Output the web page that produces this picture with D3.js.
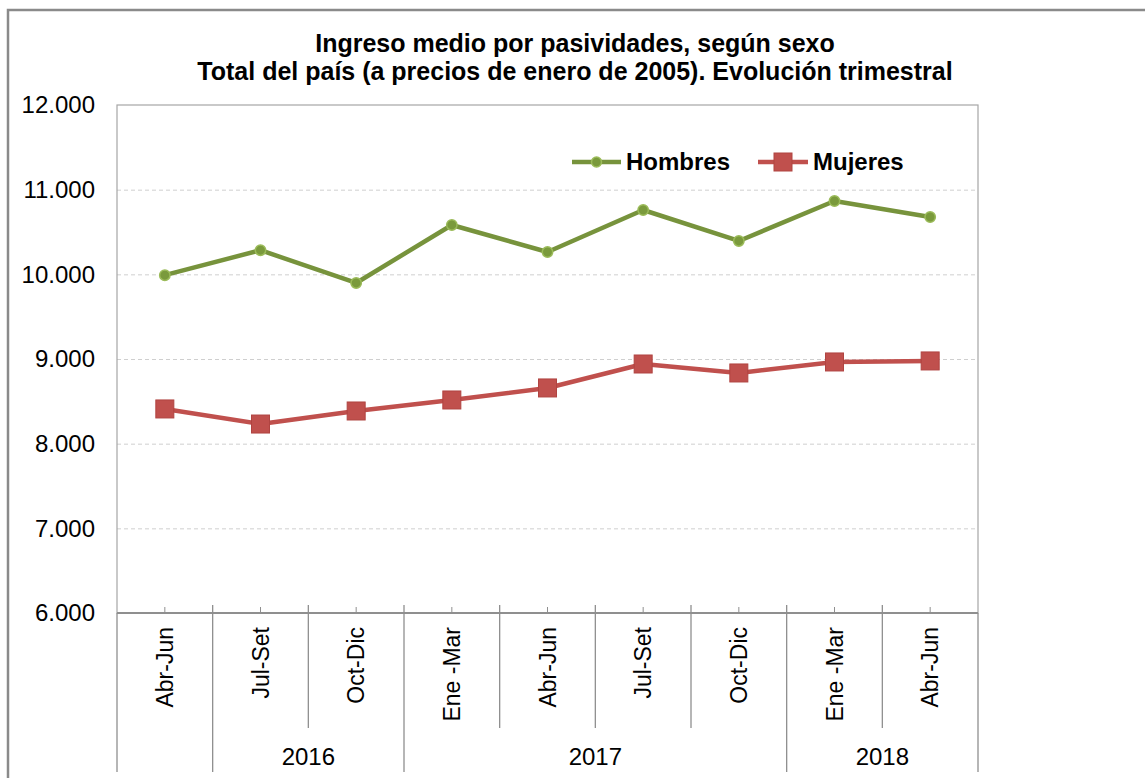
<!DOCTYPE html>
<html>
<head>
<meta charset="utf-8">
<script src="https://cdn.jsdelivr.net/npm/d3@7"></script>
<style>
  body { margin: 0; background: #fff; }
  text { font-family: Arial, "Liberation Sans", sans-serif; }
</style>
</head>
<body>
<div class="chart"></div>
<script>
// data
const quarters = ['Abr-Jun', 'Jul-Set', 'Oct-Dic', 'Ene -Mar', 'Abr-Jun', 'Jul-Set', 'Oct-Dic', 'Ene -Mar', 'Abr-Jun']
const years = [
  {label: '', start: 0, end: 1},
  {label: '2016', start: 1, end: 3},
  {label: '2017', start: 3, end: 7},
  {label: '2018', start: 7, end: 9}
]
const hombres = [9990, 10285, 9898, 10583, 10264, 10760, 10394, 10866, 10677]
const mujeres = [8410, 8232, 8386, 8516, 8658, 8941, 8835, 8965, 8977]
const yTicks = [6000, 7000, 8000, 9000, 10000, 11000, 12000]
const titleLines = ['Ingreso medio por pasividades, según sexo', 'Total del país (a precios de enero de 2005). Evolución trimestral']

const W = 1145, H = 778
const margin = ({top: 105, right: 167, bottom: 165, left: 117})
const width = W - margin.left - margin.right
const height = H - margin.top - margin.bottom

const svg = d3.select('.chart').append('svg')
    .attr('width', W)
    .attr('height', H)

// outer frame
svg.append('rect')
    .attr('x', 8).attr('y', 10)
    .attr('width', W + 20).attr('height', H + 20)
    .attr('fill', 'none')
    .attr('stroke', '#8a8a8a')
    .attr('stroke-width', 2.5)

svg.selectAll('.title')
    .data(titleLines)
    .enter()
    .append('text')
    .attr('x', 575)
    .attr('y', (d, i) => 52 + i * 28)
    .attr('text-anchor', 'middle')
    .style('font-weight', 'bold')
    .style('font-size', '25px')
    .text(d => d)

const g = svg.append('g')
    .attr('transform', `translate(${margin.left},${margin.top})`)

const xScale = d3.scaleBand()
    .domain(d3.range(quarters.length))
    .range([0, width])
    .padding(0)
const cx = i => xScale(i) + xScale.bandwidth() / 2

const yScale = d3.scaleLinear()
    .domain([6000, 12000])
    .range([height, 0])

const fmt = d3.formatLocale({decimal: ',', thousands: '.', grouping: [3], currency: ['', '']}).format(',d')

// gridlines
g.append('g')
    .attr('class', 'grid')
    .call(d3.axisLeft(yScale).tickValues(yTicks.slice(1, -1)).tickSize(-width).tickFormat(''))
    .call(s => s.select('.domain').remove())
    .call(s => s.selectAll('line').attr('stroke', '#cfcfcf').attr('stroke-dasharray', '4,3'))

// plot border
g.append('rect')
    .attr('width', width).attr('height', height)
    .attr('fill', 'none')
    .attr('stroke', '#a6a6a6')
    .attr('stroke-width', 1.2)

// y axis labels
g.append('g')
    .call(d3.axisLeft(yScale).tickValues(yTicks).tickSize(0).tickPadding(22).tickFormat(fmt))
    .call(s => s.select('.domain').remove())
    .call(s => s.selectAll('text').style('font-size', '24px').attr('fill', '#000').style('font-family', 'Arial, "Liberation Sans", sans-serif'))

// x axis
const xa = g.append('g').attr('transform', `translate(0,${height})`)
xa.append('line').attr('x1', 0).attr('x2', width).attr('stroke', '#8f8f8f').attr('stroke-width', 2)
xa.selectAll('.ctick')
    .data(quarters)
    .enter()
    .append('line')
    .attr('x1', (d, i) => cx(i)).attr('x2', (d, i) => cx(i))
    .attr('y1', -6).attr('y2', 0)
    .attr('stroke', '#8f8f8f')

// separators between quarters
const bounds = d3.range(quarters.length + 1)
const yearBounds = new Set(years.flatMap(y => [y.start, y.end]))
xa.selectAll('.sep')
    .data(bounds)
    .enter()
    .append('line')
    .attr('x1', d => d === quarters.length ? width : xScale(d))
    .attr('x2', d => d === quarters.length ? width : xScale(d))
    .attr('y1', d => (d === 0 || d === quarters.length) ? 0 : -8)
    .attr('y2', d => yearBounds.has(d) ? 159 : 115)
    .attr('stroke', '#8f8f8f')
    .attr('stroke-width', 1.3)

xa.selectAll('.qlabel')
    .data(quarters)
    .enter()
    .append('text')
    .attr('transform', (d, i) => `translate(${cx(i) + 8},14) rotate(-90)`)
    .attr('text-anchor', 'end')
    .style('font-size', '23px')
    .text(d => d)

xa.selectAll('.ylabel')
    .data(years)
    .enter()
    .append('text')
    .attr('x', d => (xScale(d.start) + (d.end === quarters.length ? width : xScale(d.end))) / 2)
    .attr('y', 152)
    .attr('text-anchor', 'middle')
    .style('font-size', '24px')
    .text(d => d.label)

// lines
const line = d3.line().x((d, i) => cx(i)).y(d => yScale(d))

g.append('path')
    .datum(hombres)
    .attr('d', line)
    .attr('fill', 'none')
    .attr('stroke', '#77933c')
    .attr('stroke-width', 4.5)
    .attr('stroke-linejoin', 'round')

g.selectAll('.hm')
    .data(hombres)
    .enter()
    .append('circle')
    .attr('cx', (d, i) => cx(i))
    .attr('cy', d => yScale(d))
    .attr('r', 5.2)
    .attr('fill', '#7a9a3c')
    .attr('stroke', '#9bbb59')
    .attr('stroke-width', 1.5)

g.append('path')
    .datum(mujeres)
    .attr('d', line)
    .attr('fill', 'none')
    .attr('stroke', '#c0504d')
    .attr('stroke-width', 4.5)
    .attr('stroke-linejoin', 'round')

g.selectAll('.mm')
    .data(mujeres)
    .enter()
    .append('rect')
    .attr('x', (d, i) => cx(i) - 9)
    .attr('y', d => yScale(d) - 9)
    .attr('width', 18).attr('height', 18)
    .attr('fill', '#c0504d')
    .attr('stroke', '#b04441')
    .attr('stroke-width', 1)

// legend
const legend = svg.append('g')
const lh = legend.append('g').attr('transform', 'translate(572,162)')
lh.append('line').attr('x1', 0).attr('x2', 49).attr('stroke', '#77933c').attr('stroke-width', 4.5)
lh.append('circle').attr('cx', 24.5).attr('r', 5).attr('fill', '#7a9a3c').attr('stroke', '#9bbb59').attr('stroke-width', 1.5)
lh.append('text').attr('x', 54).attr('y', 8).style('font-size', '24px').style('font-weight', 'bold').text('Hombres')

const lm = legend.append('g').attr('transform', 'translate(758,162)')
lm.append('line').attr('x1', 0).attr('x2', 50).attr('stroke', '#c0504d').attr('stroke-width', 4.5)
lm.append('rect').attr('x', 16).attr('y', -9).attr('width', 18).attr('height', 18).attr('fill', '#c0504d').attr('stroke', '#b04441')
lm.append('text').attr('x', 55).attr('y', 8).style('font-size', '24px').style('font-weight', 'bold').text('Mujeres')
</script>
</body>
</html>
